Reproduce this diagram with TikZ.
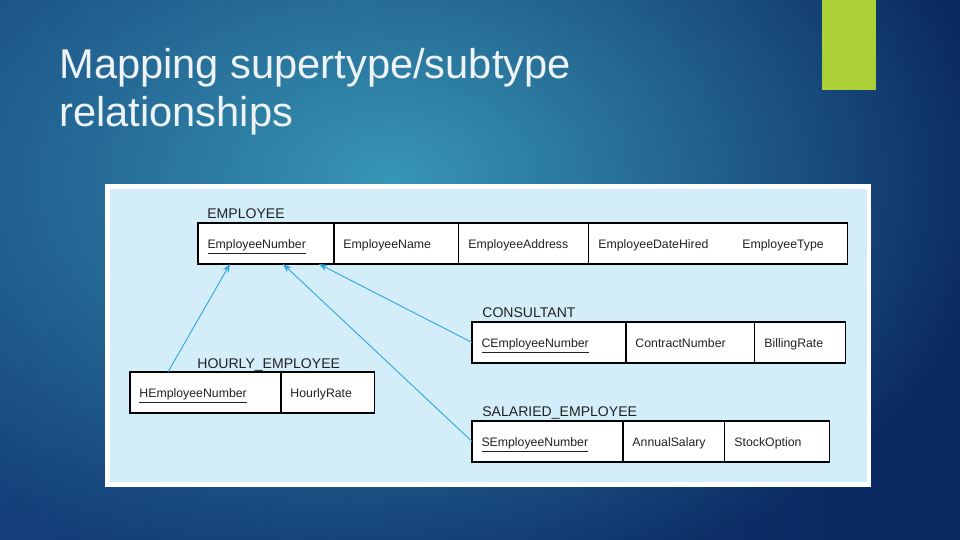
\documentclass[tikz,border=0pt]{standalone}
\usepackage{fontspec}
\setmainfont{Liberation Sans}
\usetikzlibrary{arrows.meta,positioning,calc,fadings}
\definecolor{bgleft}{HTML}{143F7A}
\definecolor{bgright}{HTML}{0A275F}
\definecolor{glow}{HTML}{3A9CB9}
\definecolor{bargreen}{HTML}{ADD038}
\definecolor{panel}{HTML}{D3EDF9}
\definecolor{linkblue}{HTML}{2AA5DD}
\definecolor{ink}{HTML}{222222}
\definecolor{titlewhite}{HTML}{EEF3F8}
\tikzfading[name=glowfade,inner color=transparent!0,outer color=transparent!100]

\begin{document}
\begin{tikzpicture}[x=0.02cm,y=-0.02cm,
  cell/.style={draw=black,fill=white,line width=0.6pt,outer sep=0pt,anchor=west,
    minimum height=0.82cm,inner xsep=0.19cm,inner ysep=0pt,align=left,
    text height=1.55ex,text depth=0.45ex,text=ink,font=\fontsize{7}{8}\selectfont},
  lbl/.style={anchor=base west,inner sep=0pt,text=ink,font=\fontsize{8}{9}\selectfont},
  arr/.style={-{Stealth[length=1.7mm,width=1.3mm]},draw=linkblue,line width=0.5pt}]
% 背景
\useasboundingbox (0,0) rectangle (960,540);
\shade[left color=bgleft,right color=bgright] (0,0) rectangle (960,540);
\fill[glow,path fading=glowfade,fill opacity=0.95] (390,180) ellipse [x radius=620,y radius=420];
\fill[bargreen] (822,0) rectangle (876,90);
% 标题
\node[anchor=base west,inner sep=0pt,text=titlewhite,font=\fontsize{23.7}{28}\selectfont]
  (title) at (59,79) {Mapping supertype/subtype};
\node[anchor=base west,inner sep=0pt,text=titlewhite,font=\fontsize{23.7}{28}\selectfont]
  (title2) at (59,127) {relationships};
% 图框
\fill[white] (105,184) rectangle (871,487);
\fill[panel] (110,189) rectangle (867,482);
% EMPLOYEE
\node[cell,text width=2.34cm] (emp1) at (198,243.5) {\underline{EmployeeNumber}};
\node[cell,text width=2.12cm,right=0pt of emp1] (emp2) {EmployeeName};
\node[cell,text width=2.22cm,right=0pt of emp2] (emp3) {EmployeeAddress};
\node[cell,text width=4.80cm,right=0pt of emp3] (emp4) {EmployeeDateHired\hspace{0.68cm}EmployeeType};
\node[lbl] (emplbl) at ($(emp1.north west)+(9,-5)$) {EMPLOYEE};
% CONSULTANT
\node[cell,text width=2.70cm] (con1) at (472,342.5) {\underline{CEmployeeNumber}};
\node[cell,text width=2.20cm,right=0pt of con1] (con2) {ContractNumber};
\node[cell,text width=1.44cm,right=0pt of con2] (con3) {BillingRate};
\node[lbl] (conlbl) at ($(con1.north west)+(10,-5)$) {CONSULTANT};
% SALARIED_EMPLOYEE
\node[cell,text width=2.64cm] (sal1) at (472,441.5) {\underline{SEmployeeNumber}};
\node[cell,text width=1.66cm,right=0pt of sal1] (sal2) {AnnualSalary};
\node[cell,text width=1.72cm,right=0pt of sal2] (sal3) {StockOption};
\node[lbl] (sallbl) at ($(sal1.north west)+(10,-4.5)$) {SALARIED\_EMPLOYEE};
% HOURLY_EMPLOYEE
\node[cell,text width=2.64cm] (hr1) at (130,392.5) {\underline{HEmployeeNumber}};
\node[cell,text width=1.50cm,right=0pt of hr1] (hr2) {HourlyRate};
\node[lbl] (hrlbl) at ($(hr1.north west)+(67,-3.5)$) {HOURLY\_EMPLOYEE};
% 箭头
\draw[arr] ($(hr1.north)+(-37.5,0)$) -- ($(emp1.south)+(-36,0)$);
\draw[arr] (sal1.west) -- ($(emp1.south)+(17,0)$);
\draw[arr] (con1.west) -- ($(emp1.south)+(53,0)$);
\end{tikzpicture}
\end{document}
